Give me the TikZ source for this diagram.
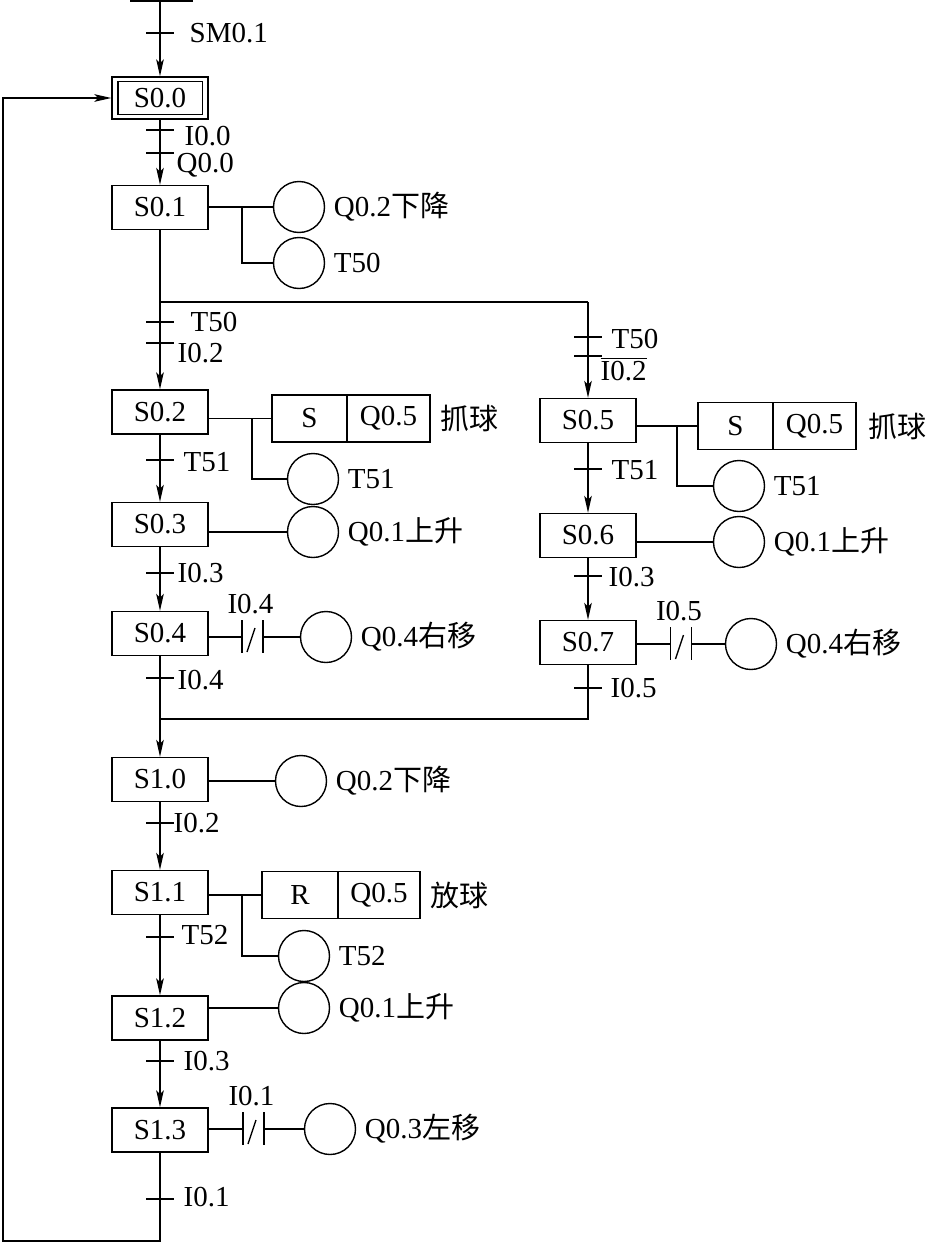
\documentclass[tikz,border=0pt]{standalone}
\usepackage{fontspec}
\setmainfont{Liberation Serif}
\newfontfamily\cjk{Noto Sans CJK SC}
\usetikzlibrary{arrows.meta,positioning}

\tikzset{
  stepbox/.style={draw, minimum width=48pt, minimum height=22pt, inner sep=0pt},
  coil/.style={draw, circle, minimum size=25.5pt, inner sep=0pt},
  setbox/.style={draw, minimum height=23.5pt, inner sep=0pt, outer sep=0pt},
  flow/.style={-{Stealth[length=8.5pt,width=3.8pt,inset=2pt]}},
  lbl/.style={anchor=west, inner sep=0pt},
}

\begin{document}
\begin{tikzpicture}[x=0.5pt, y=-0.5pt, line width=0.7pt, font=\fontsize{14.5}{16}\selectfont]
\useasboundingbox (0,0) rectangle (927,1242);

% Etapas
\node[stepbox, minimum height=21pt] (s00) at (160,98) {S0.0};
\draw ([shift={(6.5,5)}]s00.north west) rectangle ([shift={(-6.5,-5)}]s00.south east);
\foreach \name/\x/\y/\txt in {s01/160/207.5/S0.1, s02/160/412/S0.2, s03/160/524.5/S0.3,
    s04/160/633.5/S0.4, s10/160/779.5/S1.0, s11/160/892.5/S1.1, s12/160/1018/S1.2,
    s13/160/1130/S1.3, s05/588/420.5/S0.5, s06/588/535.5/S0.6, s07/588/642.5/S0.7} {
    \node[stepbox] (\name) at (\x,\y) {\txt};
}

% Ligações entre etapas
\coordinate (init) at (160,1);
\draw (130,1) -- (193,1);
\draw[flow] (init) -- (s00);
\draw[flow] (s00) -- (s01);
\coordinate (fork) at (160,302);
\coordinate (forkR) at (588,302);
\draw (s01) -- (fork) -- (forkR);
\draw[flow] (fork) -- (s02);
\draw[flow] (forkR) -- (s05);
\draw[flow] (s02) -- (s03);
\draw[flow] (s03) -- (s04);
\draw[flow] (s05) -- (s06);
\draw[flow] (s06) -- (s07);
\coordinate (join) at (160,719);
\draw (s04) -- (join);
\draw (s07) |- (join);
\draw[flow] (join) -- (s10);
\draw[flow] (s10) -- (s11);
\draw[flow] (s11) -- (s12);
\draw[flow] (s12) -- (s13);

% Retorno
\coordinate (loopB) at (160,1241);
\coordinate (loopL) at (3,1241);
\draw[flow] (s13) -- (loopB) -- (loopL) |- (s00);

% Transições
\foreach \x/\y/\lx/\ly/\txt in {160/33/189/33/SM0.1, 160/130/184/136/I0.0, 160/153/176/165/Q0.0,
    160/322/190/322/T50, 160/343/177/353/I0.2, 160/460/183/462/T51, 160/573/177/573/I0.3,
    160/678/177/680/I0.4, 160/823/173/823/I0.2, 160/937/181/935/T52, 160/1061/183/1061/I0.3,
    160/1199/183/1197/I0.1, 588/337/611/339/T50, 588/356/600/369/{$\overline{\mbox{I0.2}}$},
    588/469/611/470/T51, 588/576/608/577/I0.3, 588/688/610/688/I0.5} {
    \draw (\x-14,\y) -- (\x+14,\y);
    \node[lbl] at (\lx,\ly) {\txt};
}

% Bobinas
\foreach \name/\x/\y/\txt in {c1/299/207/Q0.2{\cjk 下降}, c2/299/263/T50, c3/313/479/T51,
    c4/313/532/Q0.1{\cjk 上升}, c5/326/637/Q0.4{\cjk 右移}, c6/301/781/Q0.2{\cjk 下降},
    c7/304/956/T52, c8/304/1008/Q0.1{\cjk 上升}, c9/330/1129/Q0.3{\cjk 左移},
    c10/739/486/T51, c11/739/542/Q0.1{\cjk 上升}, c12/751/644/Q0.4{\cjk 右移}} {
    \node[coil] (\name) at (\x,\y) {};
    \node[lbl] at ([xshift=4pt]\name.east) {\txt};
}

% Set / Reset
\node[setbox, minimum width=37.5pt] (sq1) at (309.5,418.5) {S};
\node[setbox, minimum width=41.5pt, right=0pt of sq1] (q1) {Q0.5};
\node[lbl] at ([xshift=5pt]q1.east) {\cjk 抓球};
\node[setbox, minimum width=37.5pt] (sq2) at (735.5,426) {S};
\node[setbox, minimum width=41.5pt, right=0pt of sq2] (q2) {Q0.5};
\node[lbl] at ([xshift=6pt]q2.east) {\cjk 抓球};
\node[setbox, minimum width=38pt] (rq) at (300,895) {R};
\node[setbox, minimum width=41pt, right=0pt of rq] (q3) {Q0.5};
\node[lbl] at ([xshift=5pt]q3.east) {\cjk 放球};

% Contatos NF
\foreach \k/\x/\y/\txt in {k1/252.5/637/I0.4, k2/681/644/I0.5, k3/253.5/1129/I0.1} {
    \coordinate (\k) at (\x,\y);
    \draw ([shift={(-10.5,-17)}]\k) -- ([shift={(-10.5,16)}]\k);
    \draw ([shift={(10.5,-17)}]\k) -- ([shift={(10.5,16)}]\k);
    \draw ([shift={(-5.5,15)}]\k) -- ([shift={(2.5,-9)}]\k);
    \node at ([shift={(-2,-33)}]\k) {\txt};
}

% Saídas
\draw (s01.east |- c1) -- (c1);
\coordinate (b1) at (242,207);
\draw (b1) |- (c2);
\draw (s02.east |- sq1) -- (sq1);
\coordinate (b2) at (252,418.5);
\draw (b2) |- (c3);
\draw (s03.east |- c4) -- (c4);
\draw (s04.east |- k1) -- ([shift={(-10.5,0)}]k1);
\draw ([shift={(10.5,0)}]k1) -- (c5);
\draw (s10.east |- c6) -- (c6);
\draw (s11.east |- rq) -- (rq);
\coordinate (b3) at (242,895);
\draw (b3) |- (c7);
\draw (s12.east |- c8) -- (c8);
\draw (s13.east |- k3) -- ([shift={(-10.5,0)}]k3);
\draw ([shift={(10.5,0)}]k3) -- (c9);
\draw (s05.east |- sq2) -- (sq2);
\coordinate (b4) at (677,426);
\draw (b4) |- (c10);
\draw (s06.east |- c11) -- (c11);
\draw (s07.east |- k2) -- ([shift={(-10.5,0)}]k2);
\draw ([shift={(10.5,0)}]k2) -- (c12);
\end{tikzpicture}
\end{document}
